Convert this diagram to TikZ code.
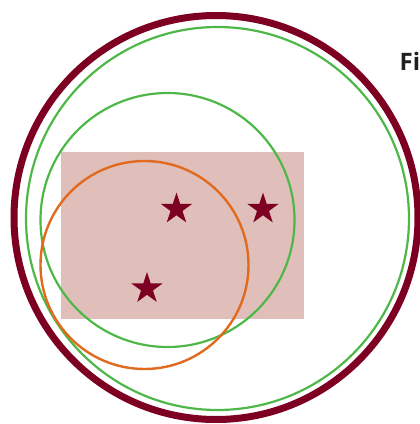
\documentclass[tikz,border=0pt]{standalone}
\usepackage{fontspec}
\setmainfont{Open Sans}
\usetikzlibrary{shapes.geometric}
\definecolor{maroon}{HTML}{7D0022}
\definecolor{grn}{HTML}{4DB848}
\definecolor{orng}{HTML}{E06A1E}
\definecolor{rose}{HTML}{E0BFBB}
\definecolor{ink}{HTML}{231F20}

\begin{document}
\begin{tikzpicture}[x=1pt,y=-1pt,
  starmark/.style={star,star points=5,star point ratio=2.62,fill=maroon,
    minimum size=33pt,inner sep=0pt,draw=none}]
  \useasboundingbox (0,0) rectangle (420,424);
  \clip (0,0) rectangle (420,424);
  \fill[rose] (61,152) rectangle (304,319);
  \draw[maroon,line width=7pt] (216,217.5) circle (202);
  \draw[grn,line width=2.2pt] (217.5,218.5) circle (191.5);
  \draw[grn,line width=2.2pt] (167.5,220) circle (127);
  \draw[orng,line width=2.4pt] (144.5,265) circle (104);
  \node[starmark] (s1) at (176.5,209) {};
  \node[starmark] (s2) at (263,209) {};
  \node[starmark] (s3) at (147,288.5) {};
  \node[anchor=base west,inner sep=0pt,text=ink,font=\bfseries\fontsize{24}{28}\selectfont] (title) at (399.5,70) {Fig};
\end{tikzpicture}
\end{document}
